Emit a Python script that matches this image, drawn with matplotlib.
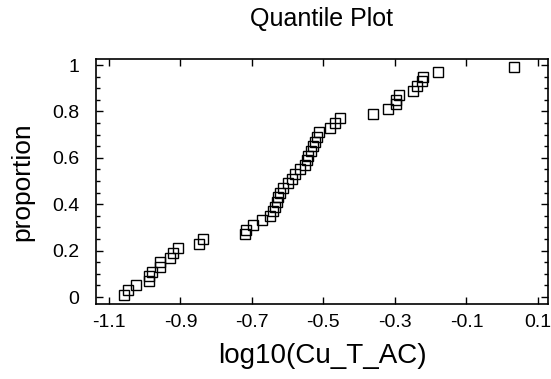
import numpy as np
import matplotlib
matplotlib.use('Agg')
from matplotlib import pyplot as plt
from matplotlib.ticker import MultipleLocator, FixedLocator

# sorted log10(Cu_T_AC) values
log_cu = [-1.058, -1.047, -1.024, -0.988, -0.988, -0.980, -0.957, -0.957,
          -0.929, -0.921, -0.907, -0.848, -0.837,
          -0.720, -0.717, -0.697, -0.672, -0.650, -0.641, -0.636, -0.630,
          -0.627, -0.622, -0.613, -0.599, -0.588, -0.580, -0.566, -0.552,
          -0.546, -0.543, -0.535, -0.529, -0.524, -0.518, -0.513,
          -0.482, -0.468, -0.454, -0.362, -0.320, -0.297, -0.297, -0.289,
          -0.250, -0.238, -0.224, -0.222, -0.180, 0.033]
proportion = [0.01, 0.03, 0.05, 0.07, 0.09, 0.11, 0.13, 0.15, 0.17, 0.19,
              0.21, 0.23, 0.25, 0.27, 0.29, 0.31, 0.33, 0.35, 0.37, 0.39,
              0.41, 0.43, 0.45, 0.47, 0.49, 0.51, 0.53, 0.55, 0.57, 0.59,
              0.61, 0.63, 0.65, 0.67, 0.69, 0.71, 0.73, 0.75, 0.77, 0.79,
              0.81, 0.83, 0.85, 0.87, 0.89, 0.91, 0.93, 0.95, 0.97, 0.99]
x_ticks = [-1.1, -0.9, -0.7, -0.5, -0.3, -0.1, 0.1]
x_ticklabels = ['-1.1', '-0.9', '-0.7', '-0.5', '-0.3', '-0.1', '0.1']
y_ticks = [0, 0.2, 0.4, 0.6, 0.8, 1]
y_ticklabels = ['0', '0.2', '0.4', '0.6', '0.8', '1']

plt.rcParams['font.family'] = ['Liberation Sans', 'DejaVu Sans']

fig = plt.figure(figsize=(5.51, 3.79), dpi=100)
ax = fig.add_axes([96/551, 1 - 304/379, (548 - 96)/551, (304 - 59)/379])

ax.plot(log_cu, proportion, linestyle='none', marker='s', markersize=7,
        markerfacecolor='none', markeredgecolor='black', markeredgewidth=1.0)

ax.set_xlim(-1.136, 0.128)
ax.set_ylim(-0.03, 1.026)
ax.xaxis.set_major_locator(FixedLocator(x_ticks))
ax.set_xticklabels(x_ticklabels)
ax.set_yticks(y_ticks)
ax.set_yticklabels(y_ticklabels)
ax.yaxis.set_minor_locator(MultipleLocator(0.05))

ax.tick_params(which='both', direction='in', top=True, right=True,
               labelsize=14, width=1.0)
ax.tick_params(axis='x', pad=7)
ax.tick_params(axis='y', pad=12)
ax.tick_params(which='major', length=5)
ax.tick_params(which='minor', length=3)
for s in ax.spines.values():
    s.set_linewidth(1.2)

ax.set_xlabel('log10(Cu_T_AC)', fontsize=20, labelpad=9)
ax.set_ylabel('proportion', fontsize=19, labelpad=13)
ax.set_title('Quantile Plot', fontsize=18, pad=24)

fig.savefig('out.png', dpi=100)
